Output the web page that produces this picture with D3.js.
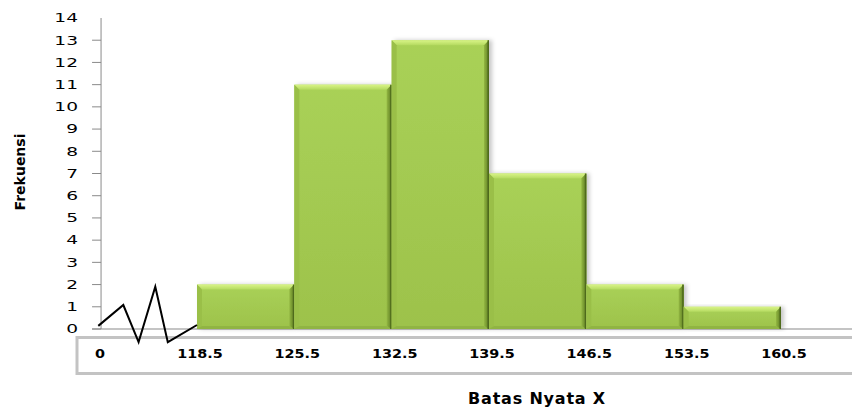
<!DOCTYPE html>
<html lang="en">
<head>
    <meta charset="UTF-8">
    <title>Frekuensi - Batas Nyata X</title>
    <script src="https://d3js.org/d3.v7.min.js"></script>
    <style>
        body { margin: 0; background: #fff; }
        svg { display: block; }
        .ytick { font-family: "DejaVu Sans", sans-serif; font-size: 12px; fill: #000; }
        .xtick { font-family: "DejaVu Sans", sans-serif; font-size: 12px; font-weight: bold; fill: #000; }
        .title { font-family: "DejaVu Sans", sans-serif; font-weight: bold; fill: #000; }
    </style>
</head>
<body>
    <div id="chart"></div>

    <script>
        // class boundaries (batas nyata) and frequencies
        const boundaries = [118.5, 125.5, 132.5, 139.5, 146.5, 153.5, 160.5];
        const frequencies = [2, 11, 13, 7, 2, 1];
        const yTicks = [0, 1, 2, 3, 4, 5, 6, 7, 8, 9, 10, 11, 12, 13, 14];
        const xLabels = ["0", "118.5", "125.5", "132.5", "139.5", "146.5", "153.5", "160.5"];
        // axis-break zigzag, in data units
        const breakX = [111.4, 113.2, 114.3, 115.5, 116.4, 118.5];
        const breakY = [0.14, 1.08, -0.59, 1.9, -0.59, 0.18];

        const width = 852;
        const height = 407;
        const axisX = 111.6; // where the y axis sits on the x scale

        const svg = d3.select("#chart")
            .append("svg")
            .attr("width", width)
            .attr("height", height);

        const x = d3.scaleLinear()
            .domain([118.5, 160.5])
            .range([197, 781]);

        const y = d3.scaleLinear()
            .domain([0, 14])
            .range([329, 18]);

        const defs = svg.append("defs");

        const body = defs.append("linearGradient")
            .attr("id", "body").attr("x1", 0).attr("y1", 0).attr("x2", 0).attr("y2", 1);
        body.append("stop").attr("offset", "0%").attr("stop-color", "#a9d157");
        body.append("stop").attr("offset", "100%").attr("stop-color", "#9dc24b");

        const topBevel = defs.append("linearGradient")
            .attr("id", "topBevel").attr("x1", 0).attr("y1", 0).attr("x2", 0).attr("y2", 1);
        topBevel.append("stop").attr("offset", "0%").attr("stop-color", "#d9f487");
        topBevel.append("stop").attr("offset", "100%").attr("stop-color", "#b4da60");

        const rightBevel = defs.append("linearGradient")
            .attr("id", "rightBevel").attr("x1", 0).attr("y1", 0).attr("x2", 1).attr("y2", 0);
        rightBevel.append("stop").attr("offset", "0%").attr("stop-color", "#93b742");
        rightBevel.append("stop").attr("offset", "100%").attr("stop-color", "#5c7b22");

        const shadow = defs.append("filter")
            .attr("id", "shadow").attr("x", "-10%").attr("y", "-10%")
            .attr("width", "130%").attr("height", "120%");
        shadow.append("feDropShadow")
            .attr("dx", 3).attr("dy", 0).attr("stdDeviation", 2)
            .attr("flood-color", "#000").attr("flood-opacity", 0.22);

        // x label frame
        svg.append("rect")
            .attr("x", 77)
            .attr("y", 337.5)
            .attr("width", 800)
            .attr("height", 36)
            .attr("fill", "#fff")
            .attr("stroke", "#c3c3c3")
            .attr("stroke-width", 3);

        // y axis
        svg.append("line")
            .attr("x1", x(axisX)).attr("x2", x(axisX))
            .attr("y1", y(14)).attr("y2", y(0))
            .attr("stroke", "#8a8a8a").attr("stroke-width", 1);

        svg.append("g")
            .selectAll("line")
            .data(yTicks.filter(d => d < 14))
            .enter().append("line")
            .attr("x1", x(axisX) - 9).attr("x2", x(axisX))
            .attr("y1", d => y(d)).attr("y2", d => y(d))
            .attr("stroke", "#8a8a8a").attr("stroke-width", 1);

        svg.append("g")
            .selectAll("text")
            .data(yTicks)
            .enter().append("text")
            .attr("class", "ytick")
            .attr("text-anchor", "end")
            .attr("dy", "0.36em")
            .attr("transform", d => `translate(78,${y(d)}) scale(1.55,1)`)
            .text(d => d);

        // x axis line
        svg.append("line")
            .attr("x1", x(axisX) - 9).attr("x2", width)
            .attr("y1", y(0)).attr("y2", y(0))
            .attr("stroke", "#8a8a8a").attr("stroke-width", 1.2);

        // bars
        const bars = frequencies.map((f, i) => ({
            lo: boundaries[i], hi: boundaries[i + 1], f: f
        }));

        const barG = svg.append("g")
            .selectAll("g")
            .data(bars)
            .enter().append("g");

        barG.append("rect")
            .attr("x", d => x(d.lo))
            .attr("y", d => y(d.f))
            .attr("width", d => x(d.hi) - x(d.lo))
            .attr("height", d => y(0) - y(d.f))
            .attr("fill", "url(#body)")
            .attr("filter", "url(#shadow)");

        const b = 5;
        const pts = arr => arr.map(p => p.join(",")).join(" ");

        // top bevel
        barG.append("polygon")
            .attr("points", d => {
                const x0 = x(d.lo), x1 = x(d.hi), yt = y(d.f);
                return pts([[x0, yt], [x1, yt], [x1 - b, yt + b], [x0 + b, yt + b]]);
            })
            .attr("fill", "url(#topBevel)");

        // left bevel
        barG.append("polygon")
            .attr("points", d => {
                const x0 = x(d.lo), yt = y(d.f), yb = y(0);
                return pts([[x0, yt], [x0 + b, yt + b], [x0 + b, yb - 3], [x0, yb]]);
            })
            .attr("fill", "#9abf48");

        // bottom bevel
        barG.append("polygon")
            .attr("points", d => {
                const x0 = x(d.lo), x1 = x(d.hi), yb = y(0);
                return pts([[x0, yb], [x0 + b, yb - 3], [x1 - b, yb - 3], [x1, yb]]);
            })
            .attr("fill", "#90b443");

        // right bevel
        barG.append("polygon")
            .attr("points", d => {
                const x1 = x(d.hi), yt = y(d.f), yb = y(0);
                return pts([[x1, yt], [x1, yb], [x1 - b, yb - 3], [x1 - b, yt + b]]);
            })
            .attr("fill", "url(#rightBevel)");

        barG.append("line")
            .attr("x1", d => x(d.hi) - 0.75).attr("x2", d => x(d.hi) - 0.75)
            .attr("y1", d => y(d.f)).attr("y2", y(0))
            .attr("stroke", "#4f6b1c").attr("stroke-width", 1.5);

        // axis break zigzag
        const line = d3.line()
            .x((d, i) => x(breakX[i]))
            .y(d => y(d));

        svg.append("path")
            .datum(breakY)
            .attr("d", line)
            .attr("fill", "none")
            .attr("stroke", "#000")
            .attr("stroke-width", 2)
            .attr("stroke-linejoin", "miter");

        // x labels
        const labelPos = [axisX].concat(boundaries);
        svg.append("g")
            .selectAll("text")
            .data(xLabels)
            .enter().append("text")
            .attr("class", "xtick")
            .attr("text-anchor", "middle")
            .attr("transform", (d, i) => `translate(${x(labelPos[i]) + (i === 0 ? -1 : 3)},358) scale(1.2,1)`)
            .text(d => d);

        // axis titles
        svg.append("text")
            .attr("class", "title")
            .attr("text-anchor", "middle")
            .attr("transform", "translate(25,172) rotate(-90)")
            .style("font-size", "14px")
            .text("Frekuensi");

        svg.append("text")
            .attr("class", "title")
            .attr("text-anchor", "middle")
            .attr("x", 537)
            .attr("y", 404)
            .style("font-size", "16px")
            .style("letter-spacing", "0.8px")
            .text("Batas Nyata X");
    </script>
</body>
</html>
